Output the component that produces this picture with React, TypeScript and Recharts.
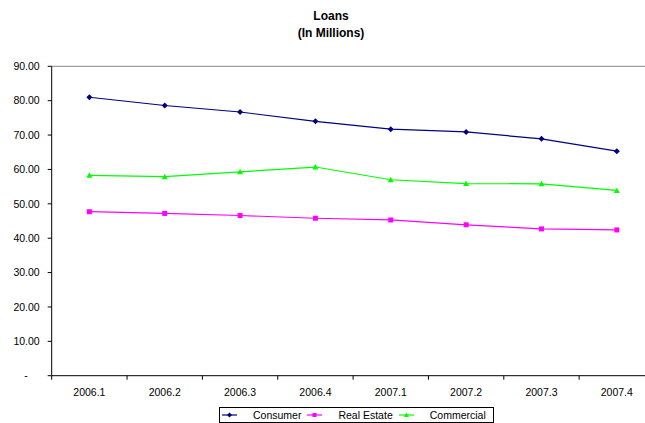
import React from 'react';
import { LineChart, Line, XAxis, YAxis, ReferenceLine, Legend } from 'recharts';

const categories = ['2006.1', '2006.2', '2006.3', '2006.4', '2007.1', '2007.2', '2007.3', '2007.4'];
const consumer = [81.0, 78.6, 76.7, 74.0, 71.7, 70.9, 68.9, 65.3];
const realEstate = [47.7, 47.2, 46.6, 45.8, 45.3, 43.9, 42.7, 42.4];
const commercial = [58.3, 57.9, 59.3, 60.7, 57.0, 55.9, 55.8, 53.9];
const yTicks = [0, 10, 20, 30, 40, 50, 60, 70, 80, 90];

const data = categories.map((c, i) => ({
  pos: i + 0.5,
  name: c,
  consumer: consumer[i],
  realEstate: realEstate[i],
  commercial: commercial[i],
}));
const labelTicks = categories.map((_, i) => i + 0.5);
const boundaryTicks = [...categories.map((_, i) => i), categories.length];

const NAVY = '#000080';
const MAGENTA = '#FF00FF';
const GREEN = '#00FF00';
const FONT = '"Liberation Sans", Arial, sans-serif';
const FS = 10.5;

const Diamond = (props: any) => {
  const { cx, cy, index } = props;
  if (cx == null || cy == null) return <g key={`dd-${index}`} />;
  return (
    <polygon key={`dd-${index}`} points={`${cx},${cy - 3} ${cx + 3},${cy} ${cx},${cy + 3} ${cx - 3},${cy}`} fill={NAVY} />
  );
};
const Square = (props: any) => {
  const { cx, cy, index } = props;
  if (cx == null || cy == null) return <g key={`ds-${index}`} />;
  return <rect key={`ds-${index}`} x={cx - 2.5} y={cy - 2.5} width={5} height={5} fill={MAGENTA} />;
};
const Triangle = (props: any) => {
  const { cx, cy, index } = props;
  if (cx == null || cy == null) return <g key={`dt-${index}`} />;
  return (
    <polygon key={`dt-${index}`} points={`${cx},${cy - 3} ${cx + 3},${cy + 2.5} ${cx - 3},${cy + 2.5}`} fill={GREEN} />
  );
};

const YTick = (props: any) => {
  const { x, y, payload } = props;
  const v = payload.value;
  const isZero = v === 0;
  return (
    <text x={isZero ? x - 12 : x} y={y} dy="0.355em" textAnchor="end" fontSize={FS} fontFamily={FONT} fill="#000">
      {isZero ? '-' : v.toFixed(2)}
    </text>
  );
};

const legendItems = [
  { label: 'Consumer', color: NAVY, shape: 'diamond' },
  { label: 'Real Estate', color: MAGENTA, shape: 'square' },
  { label: 'Commercial', color: GREEN, shape: 'triangle' },
];

const LegendIcon = ({ color, shape }: { color: string; shape: string }) => (
  <svg width={15} height={8} style={{ display: 'block' }}>
    <line x1={0} y1={4} x2={15} y2={4} stroke={color} strokeWidth={1.2} />
    {shape === 'diamond' && <polygon points="7.5,1.5 10,4 7.5,6.5 5,4" fill={color} />}
    {shape === 'square' && <rect x={5.5} y={2} width={4} height={4} fill={color} />}
    {shape === 'triangle' && <polygon points="7.5,1.5 10,6 5,6" fill={color} />}
  </svg>
);

const LegendBox = () => (
  <div
    style={{
      display: 'flex',
      width: 'fit-content',
      alignItems: 'center',
      border: '1px solid #000',
      height: 16,
      paddingRight: 7,
      boxSizing: 'border-box',
      fontFamily: FONT,
      fontSize: FS,
      lineHeight: '14px',
      color: '#000',
      background: '#fff',
    }}
  >
    {legendItems.map((it, i) => (
      <React.Fragment key={it.label}>
        <div style={{ marginLeft: i === 0 ? 2 : 6 }}>
          <LegendIcon color={it.color} shape={it.shape} />
        </div>
        <span style={{ marginLeft: 16, whiteSpace: 'nowrap' }}>{it.label}</span>
      </React.Fragment>
    ))}
  </div>
);

export default function App() {
  return (
    <div style={{ position: 'absolute', left: 0, top: 0, width: 645, height: 423, overflow: 'hidden', background: '#fff' }}>
      <div
        style={{
          position: 'absolute',
          left: 0,
          top: 8,
          width: 662,
          textAlign: 'center',
          fontFamily: FONT,
          fontWeight: 'bold',
          fontSize: 12,
          lineHeight: '17px',
          color: '#000',
        }}
      >
        <div>Loans</div>
        <div>(In Millions)</div>
      </div>
      <LineChart
        width={660}
        height={423}
        data={data}
        margin={{ top: 66.3, right: 5.5, left: 0, bottom: 17.3 }}
        style={{ position: 'absolute', left: 0, top: 0 }}
      >
        <XAxis
          xAxisId="axisA"
          dataKey="pos"
          type="number"
          domain={[0, categories.length]}
          ticks={boundaryTicks}
          tickFormatter={() => ''}
          height={1}
          tickSize={4}
          interval={0}
          axisLine={{ stroke: '#000', strokeWidth: 1 }}
          tickLine={{ stroke: '#000' }}
        />
        <XAxis
          xAxisId="axisB"
          dataKey="pos"
          type="number"
          domain={[0, categories.length]}
          ticks={labelTicks}
          tickFormatter={(v: number) => categories[Math.floor(v)]}
          axisLine={false}
          tickLine={false}
          tickSize={5}
          tickMargin={7}
          height={29}
          interval={0}
          tick={{ fontSize: FS, fontFamily: FONT, fill: '#000' }}
        />
        <YAxis
          domain={[0, 90]}
          ticks={yTicks}
          width={51.7}
          interval={0}
          tickSize={4}
          tickMargin={8}
          tick={<YTick />}
          axisLine={{ stroke: '#000' }}
          tickLine={{ stroke: '#000' }}
        />
        <ReferenceLine y={90} xAxisId="axisB" stroke="#a0a0a0" strokeWidth={1.2} />
        <Legend
          layout="horizontal"
          verticalAlign="middle"
          align="center"
          content={() => <LegendBox />}
          wrapperStyle={{ top: 406.5, left: 219, width: 300, height: 16 }}
        />
        <Line xAxisId="axisB" type="linear" dataKey="consumer" name="Consumer" stroke={NAVY} strokeWidth={1.2} dot={Diamond} isAnimationActive={false} />
        <Line xAxisId="axisB" type="linear" dataKey="realEstate" name="Real Estate" stroke={MAGENTA} strokeWidth={1.2} dot={Square} isAnimationActive={false} />
        <Line xAxisId="axisB" type="linear" dataKey="commercial" name="Commercial" stroke={GREEN} strokeWidth={1.2} dot={Triangle} isAnimationActive={false} />
      </LineChart>
    </div>
  );
}
